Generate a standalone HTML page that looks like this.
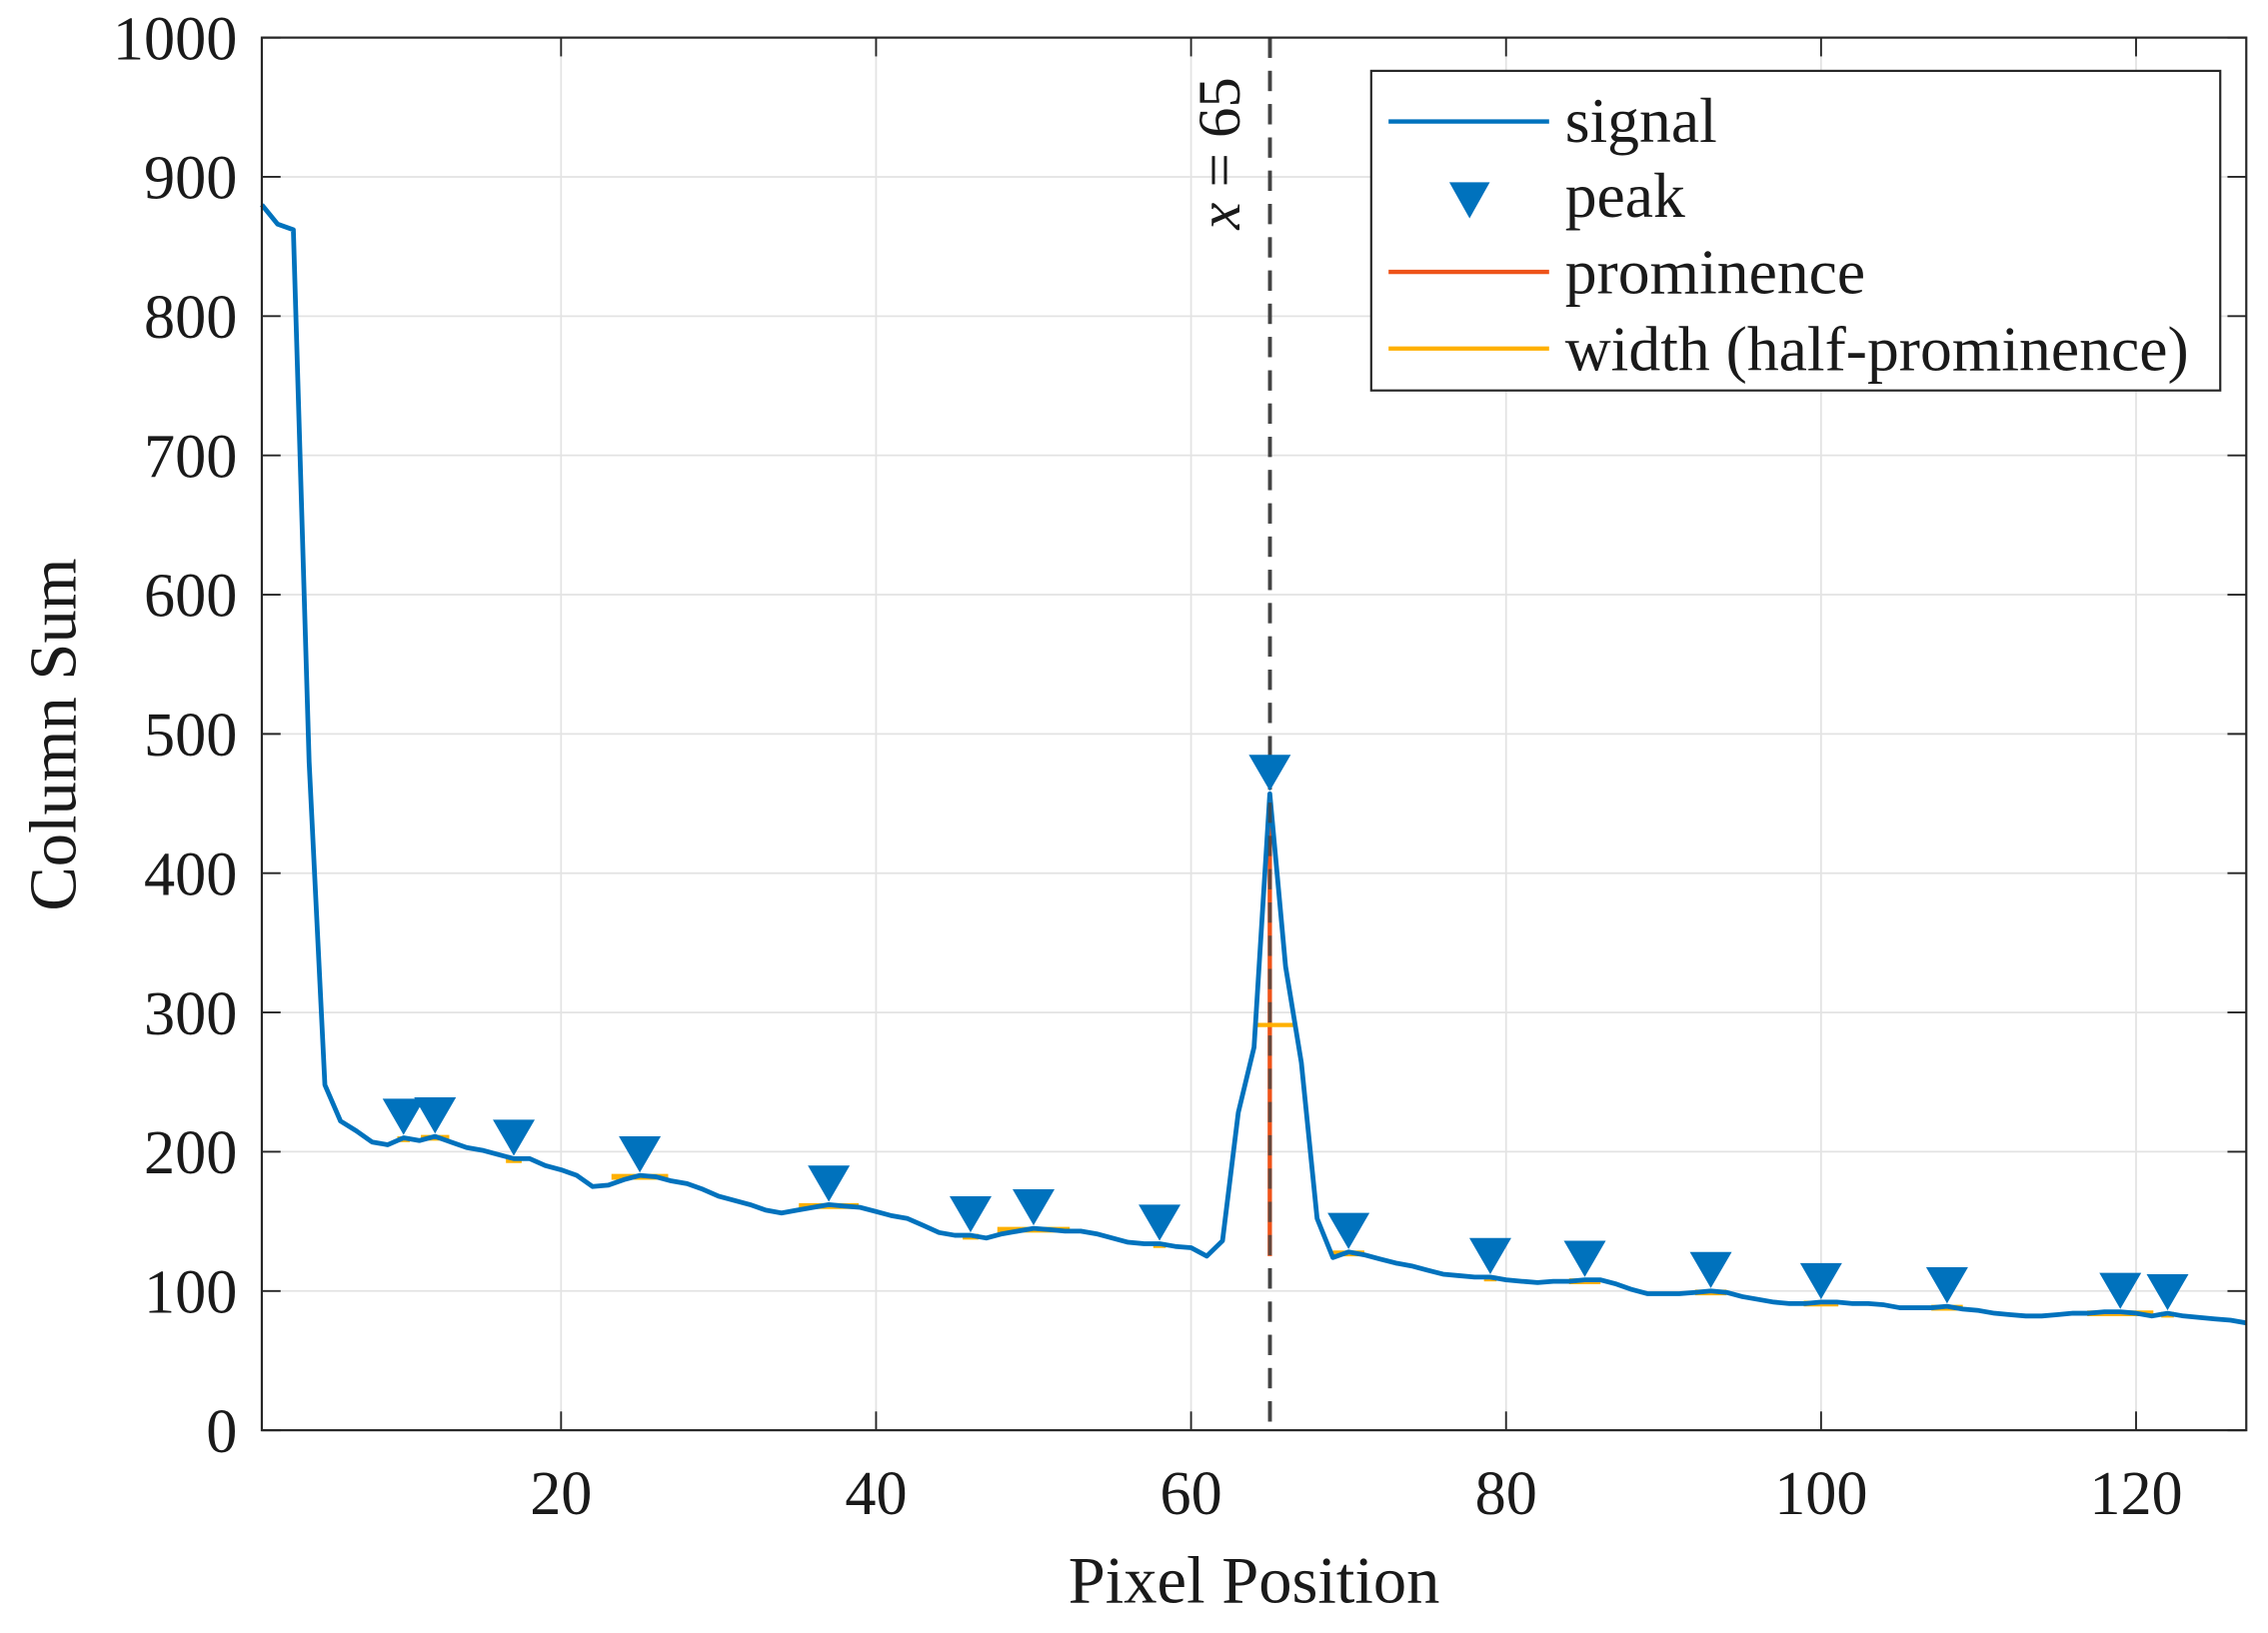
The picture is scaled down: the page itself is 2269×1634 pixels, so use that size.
<!DOCTYPE html>
<html><head><meta charset="utf-8"><style>
html,body{margin:0;padding:0;background:#fff;}
svg{display:block;}
text{font-family:"Liberation Serif","DejaVu Serif",serif;fill:#1a1a1a;}
</style></head><body>
<svg id="s" width="2269" height="1634" viewBox="0 0 1568 1129.2" xmlns="http://www.w3.org/2000/svg">
<rect x="0" y="0" width="1568" height="1130" fill="#fff"/>
<g id="grid" stroke="#e3e3e3" stroke-width="1.2"></g>
<g id="ticks" stroke="#262626" stroke-width="1.3"></g>
<g id="data"></g>
<rect x="181" y="26" width="1372" height="963" fill="none" stroke="#262626" stroke-width="1.5"/>
<g id="labels" font-size="43" text-anchor="end"></g>
<text x="867" y="1108" font-size="46" text-anchor="middle">Pixel Position</text>
<text transform="translate(52,508) rotate(-90)" font-size="46" text-anchor="middle">Column Sum</text>
<text transform="translate(857,106) rotate(-90)" font-size="42" text-anchor="middle"><tspan font-style="italic">x</tspan> = 65</text>
<g>
<rect x="948" y="49" width="587" height="221" fill="#fff" stroke="#262626" stroke-width="1.5"/>
<line x1="960" y1="84" x2="1071" y2="84" stroke="#0072BD" stroke-width="3"/>
<polygon points="1002,126 1030,126 1016,151" fill="#0072BD"/>
<line x1="960" y1="188" x2="1071" y2="188" stroke="#EE5319" stroke-width="3"/>
<line x1="960" y1="241" x2="1071" y2="241" stroke="#FFB000" stroke-width="3"/>
<text x="1082" y="98" font-size="44">signal</text>
<text x="1082" y="150" font-size="44">peak</text>
<text x="1082" y="203" font-size="44">prominence</text>
<text x="1082" y="256" font-size="44">width (half-prominence)</text>
</g>
</svg>
<script>
var NS="http://www.w3.org/2000/svg";
function px(x){return 181+10.889*(x-1);}
function py(v){return 989-0.963*v;}
function el(p,t,a){var e=document.createElementNS(NS,t);for(var k in a)e.setAttribute(k,a[k]);document.getElementById(p).appendChild(e);return e;}
for(var x=20;x<=120;x+=20){el("grid","line",{x1:px(x),y1:26,x2:px(x),y2:989});
 el("ticks","line",{x1:px(x),y1:989,x2:px(x),y2:976});el("ticks","line",{x1:px(x),y1:26,x2:px(x),y2:39});
 var t=el("labels","text",{x:px(x),y:1047,"text-anchor":"middle"});t.textContent=x;}
for(var v=0;v<=1000;v+=100){el("grid","line",{x1:181,y1:py(v),x2:1553,y2:py(v)});
 el("ticks","line",{x1:181,y1:py(v),x2:194,y2:py(v)});el("ticks","line",{x1:1553,y1:py(v),x2:1540,y2:py(v)});
 var t=el("labels","text",{x:164,y:py(v)+15});t.textContent=v;}
var d=[880,866,862,480,248,222,215,207,205,210,208,211,207,203,201,198,195,195,190,187,183,175,176,180,183,182,179,177,173,168,165,162,158,156,158,160,162,161,160,157,154,152,147,142,140,140,138,141,143,145,144,143,143,141,138,135,134,134,132,131,125,136,228,275,457,333,264,152,124,128,126,123,120,118,115,112,111,110,110,108,107,106,107,107,108,108,105,101,98,98,98,99,100,99,96,94,92,91,91,92,92,91,91,90,88,88,88,89,87,86,84,83,82,82,83,84,84,85,85,84,82,84,82,81,80,79,77];
var pts=d.map(function(v,i){return px(i+1).toFixed(1)+","+py(v).toFixed(1);}).join(" ");
var peaks=[[10,0.4],[12,0.9],[17,0.5],[25,1.8],[37,1.9],[46,0.5],[50,2.3],[58,0.4],[70,1],[79,0.4],[85,1],[93,1],[100,1.1],[108,1],[119,2.1],[122,0.4]];
el("data","line",{x1:878,y1:26,x2:878,y2:989,stroke:"#444","stroke-width":2.6,"stroke-dasharray":"14,9"});
peaks.forEach(function(p){var x=p[0],v=d[x-1];el("data","line",{x1:px(x-p[1]),y1:py(v)+1,x2:px(x+p[1]),y2:py(v)+1,stroke:"#FFB000","stroke-width":4});});
el("data","line",{x1:px(65),y1:py(457),x2:px(65),y2:py(125),stroke:"#EE5319","stroke-width":3});
el("data","line",{x1:869,y1:py(291),x2:896,y2:py(291),stroke:"#FFB000","stroke-width":3});
el("data","polyline",{points:pts,fill:"none",stroke:"#0072BD","stroke-width":3.3,"stroke-linejoin":"round"});
el("data","line",{x1:878,y1:26,x2:878,y2:989,stroke:"#444","stroke-width":2.6,"stroke-dasharray":"14,9","stroke-opacity":0.8});
peaks.concat([[65,0]]).forEach(function(p){var x=p[0],X=px(x),Y=py(d[x-1])-2;
 el("data","polygon",{points:(X-14.5)+","+(Y-25)+" "+(X+14.5)+","+(Y-25)+" "+X+","+Y,fill:"#0072BD"});});
</script>
</body></html>
